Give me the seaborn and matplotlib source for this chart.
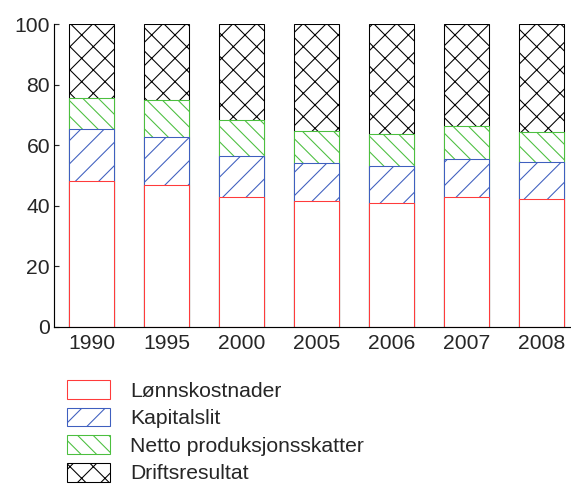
import numpy as np
import pandas as pd
import matplotlib
matplotlib.use("Agg")
import matplotlib.pyplot as plt
import seaborn as sns
from matplotlib.patches import Patch

years = ["1990", "1995", "2000", "2005", "2006", "2007", "2008"]
lonnskostnader = [48.3, 46.9, 43.0, 41.6, 40.9, 42.9, 42.1]
kapitalslit = [17.1, 15.8, 13.6, 12.6, 12.3, 12.6, 12.5]
netto_skatter = [10.1, 12.3, 11.6, 10.4, 10.6, 10.8, 9.8]
driftsresultat = [24.5, 25.0, 31.8, 35.4, 36.2, 33.7, 35.6]

labels = ["Lønnskostnader", "Kapitalslit", "Netto produksjonsskatter", "Driftsresultat"]
colors = ["#ff3b3b", "#3f5fbf", "#4cbf3f", "#000000"]
hatches = ["", "//", "\\\\\\", "xx"]

sns.set_style("ticks")
plt.rcParams["font.family"] = ["Liberation Sans", "DejaVu Sans"]
plt.rcParams["hatch.linewidth"] = 0.55

FS = 10.9
DPI = 140
fig = plt.figure(figsize=(571 / DPI, 484 / DPI), dpi=DPI)
ax = fig.add_axes([54 / 571, 1 - 326.7 / 484, (571 - 54) / 571, (326.7 - 24.3) / 484])

df = pd.DataFrame({
    "year": years,
    "l": lonnskostnader,
    "k": kapitalslit,
    "n": netto_skatter,
    "d": driftsresultat,
})
cum = df[["l", "k", "n", "d"]].cumsum(axis=1)

# draw tallest cumulative first so lower segments overlay
for key, col, h in zip(["d", "n", "k", "l"], colors[::-1], hatches[::-1]):
    sns.barplot(x=df["year"], y=cum[key], color="white", saturation=1,
                edgecolor=col, hatch=h, linewidth=0.55, width=0.6, ax=ax)

ax.set_xlim(-0.5, (571 - 54) / 75 - 0.5)
ax.set_ylim(0, 100)
ax.set_yticks([0, 20, 40, 60, 80, 100])
ax.set_xlabel("")
ax.set_ylabel("")
for s in ["top", "right"]:
    ax.spines[s].set_visible(False)
for s in ["left", "bottom"]:
    ax.spines[s].set_linewidth(0.6)
    ax.spines[s].set_color("black")
ax.tick_params(axis="y", direction="in", length=2.6, width=0.6, pad=2, labelsize=FS)
ax.tick_params(axis="x", length=0, pad=3.5, labelsize=FS)

handles = [Patch(facecolor="white", edgecolor=c, hatch=h, linewidth=0.55, label=l)
           for c, h, l in zip(colors, hatches, labels)]
fig.legend(handles=handles, loc="upper left", bbox_to_anchor=(67 / 571, 1 - 380 / 484),
           frameon=False, fontsize=FS, handlelength=2.05, handleheight=1.0,
           labelspacing=0.32, handletextpad=0.93, borderpad=0, borderaxespad=0)

fig.savefig("out.png", dpi=DPI)
